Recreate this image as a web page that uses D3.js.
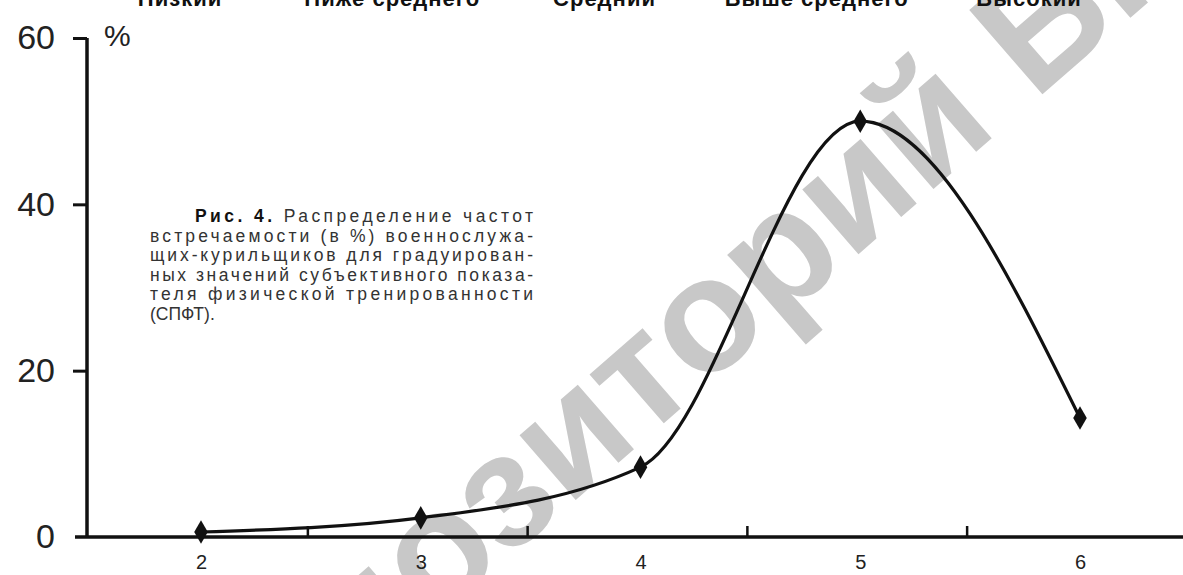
<!DOCTYPE html>
<html>
<head>
<meta charset="utf-8">
<script src="https://cdn.jsdelivr.net/npm/d3@7"></script>
<style>
  html, body { margin: 0; padding: 0; background: #fff; }
  svg { display: block; }
  text { font-family: "Liberation Sans", Arial, sans-serif; }
</style>
</head>
<body>
<svg id="chart" width="1183" height="575"></svg>
<script>
// ---- data ----
const categories = [2, 3, 4, 5, 6];
const values = [0.6, 2.3, 8.4, 50, 14.3];
const yTicks = [0, 20, 40, 60];
const levelLabels = ["Низкий", "Ниже среднего", "Средний", "Выше среднего", "Высокий"];
const captionLines = [
  ["Рис. 4.", " Распределение частот"],
  ["", "встречаемости  (в %) военнослужа-"],
  ["", "щих-курильщиков для градуирован-"],
  ["", "ных значений субъективного показа-"],
  ["", "теля физической тренированности"],
  ["", "(СПФТ)."]
];
const watermark = "репозиторий БГМУ";

// ---- layout ----
const W = 1183, H = 575;
const axisX = 87, y0 = 537, yTop = 38;
const svg = d3.select("#chart");
svg.append("rect").attr("width", W).attr("height", H).attr("fill", "#fff");

const x = d3.scaleLinear().domain([2, 6]).range([201, 1080]);
const y = d3.scaleLinear().domain([0, 60]).range([y0, yTop]);
const xTop = d3.scaleLinear().domain([0, 4]).range([180, 1029]);

// watermark (behind)
svg.append("g")
  .attr("transform", "translate(520,490) rotate(-41)")
  .append("text")
  .attr("x", -440).attr("y", 44)
  .attr("font-size", 162).attr("font-weight", "bold")
  .attr("fill", "#c8c8c8")
  .text(watermark);

// top level labels (cut off at top edge)
svg.append("g").selectAll("text").data(levelLabels).join("text")
  .attr("x", (d, i) => xTop(i)).attr("y", 6)
  .attr("text-anchor", "middle")
  .attr("font-size", 22).attr("font-weight", "bold")
  .attr("letter-spacing", 1)
  .attr("fill", "#111")
  .text(d => d);

// y axis
const yAxis = d3.axisLeft(y).tickValues(yTicks).tickSize(14).tickPadding(18);
const gy = svg.append("g").attr("transform", `translate(${axisX},0)`).call(yAxis);
gy.select(".domain").attr("d", `M0,${y0}V${yTop}`).attr("stroke", "#111").attr("stroke-width", 3.5);
gy.selectAll(".tick line").attr("stroke", "#111").attr("stroke-width", 3);
gy.selectAll(".tick text").attr("font-size", 34).attr("fill", "#222")
  .attr("font-family", "Liberation Sans, Arial, sans-serif");
gy.selectAll(".tick").filter(d => d === 0).select("line").remove();

// % label
svg.append("text").attr("x", 104).attr("y", 46)
  .attr("font-size", 30).attr("fill", "#222").text("%");

// x axis
const xAxis = d3.axisBottom(x).tickValues(categories).tickFormat(d3.format("d"))
  .tickSize(0).tickPadding(18);
const gx = svg.append("g").attr("transform", `translate(0,${y0})`).call(xAxis);
gx.select(".domain").attr("d", `M75,0H${W}`).attr("stroke", "#111").attr("stroke-width", 3.5);
gx.selectAll(".tick text").attr("font-size", 20).attr("fill", "#222")
  .attr("font-family", "Liberation Sans, Arial, sans-serif");
// inner boundary ticks between categories
const bounds = categories.slice(0, -1).map(c => c + 0.5);
gx.append("g").selectAll("line").data(bounds).join("line")
  .attr("x1", d => x(d) - 3).attr("x2", d => x(d) - 3)
  .attr("y1", 0).attr("y2", -11)
  .attr("stroke", "#111").attr("stroke-width", 2.5);

// caption
const capLeft = 150, capFirst = 195, capRight = 533, capTop = 222, capStep = 19.6;
const cap = svg.append("g").attr("fill", "#333").attr("font-size", 17.5);
captionLines.forEach((ln, i) => {
  const left = i === 0 ? capFirst : capLeft;
  const t = cap.append("text").attr("x", left).attr("y", capTop + i * capStep);
  if (i < 5) t.attr("textLength", capRight - left).attr("lengthAdjust", "spacing");
  if (ln[0]) t.append("tspan").attr("font-weight", "bold").attr("fill", "#111").text(ln[0]);
  t.append("tspan").text(ln[1]);
});

// curve
const pts = categories.map((c, i) => [c, values[i]]);
const line = d3.line().x(d => x(d[0])).y(d => y(d[1])).curve(d3.curveMonotoneX);
svg.append("path").datum(pts).attr("d", line)
  .attr("fill", "none").attr("stroke", "#111").attr("stroke-width", 3.2);

// markers
svg.append("g").selectAll("path").data(pts).join("path")
  .attr("transform", d => `translate(${x(d[0])},${y(d[1])})`)
  .attr("d", d3.symbol(d3.symbolDiamond, 160))
  .attr("fill", "#111");
</script>
</body>
</html>
